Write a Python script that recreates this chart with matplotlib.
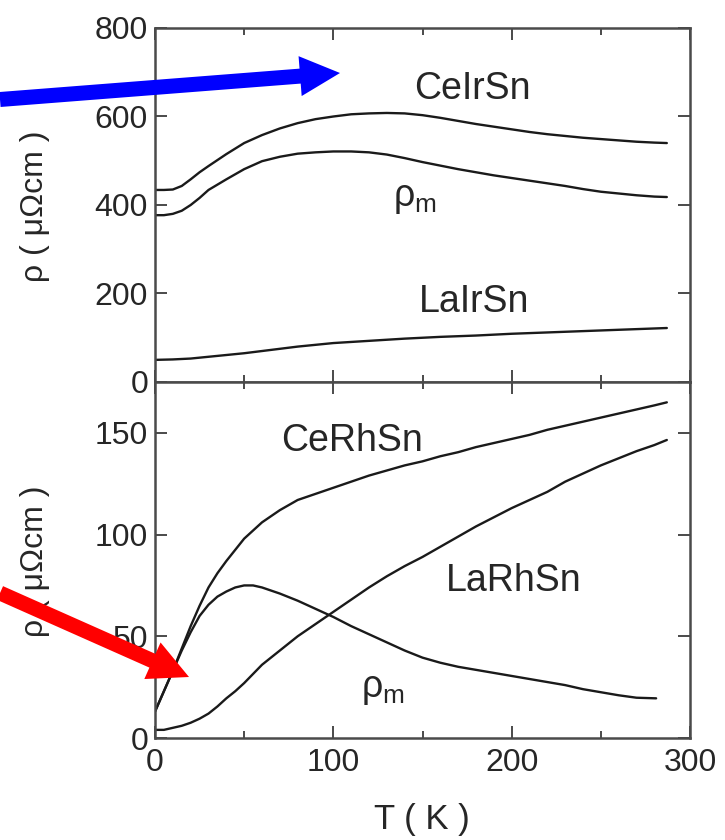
import matplotlib
matplotlib.use("Agg")
import matplotlib.pyplot as plt
from matplotlib.patches import FancyArrow
from matplotlib.transforms import IdentityTransform

plt.rcParams['font.family'] = ['Liberation Sans', 'DejaVu Sans']

# ---- upper panel: CeIrSn, its magnetic part, and LaIrSn (rho in micro-ohm cm) ----
t_ceirsn = [0, 5, 10, 15, 20, 25, 30, 40, 50, 60, 70, 80, 90, 100, 110, 120, 130,
            140, 150, 160, 170, 180, 190, 200, 210, 220, 230, 240, 250, 260, 270, 280, 287]
rho_ceirsn = [434, 434, 435, 443, 458, 474, 488, 515, 540, 558, 573, 585, 594, 600, 605,
              607, 608, 607, 603, 597, 590, 583, 577, 571, 565, 560, 556, 552, 549, 546,
              543, 541, 540]

t_rhom_ir = [0, 5, 10, 15, 20, 25, 30, 40, 50, 60, 70, 80, 90, 100, 110, 120, 130, 140,
             150, 160, 170, 180, 190, 200, 210, 220, 230, 240, 250, 260, 270, 280, 287]
rho_m_ir = [377, 377, 380, 387, 400, 416, 434, 458, 481, 499, 509, 516, 519, 521, 521,
            519, 514, 506, 497, 489, 481, 474, 467, 461, 455, 449, 443, 436, 430, 426,
            422, 419, 418]

t_lairsn = [0, 10, 20, 30, 40, 50, 60, 70, 80, 90, 100, 120, 140, 160, 180, 200, 220,
            240, 260, 287]
rho_lairsn = [50, 51, 53, 57, 61, 65, 70, 75, 80, 84, 88, 93, 98, 102, 105, 109, 112,
              115, 118, 122]

# ---- lower panel: CeRhSn, its magnetic part, and LaRhSn ----
t_cerhsn = [0, 3, 6, 10, 15, 20, 25, 30, 35, 40, 50, 60, 70, 80, 90, 100, 110, 120, 130,
            140, 150, 160, 170, 180, 190, 200, 210, 220, 230, 240, 250, 260, 270, 280, 287]
rho_cerhsn = [13, 19, 25, 33, 44, 55, 65, 74, 81, 87, 98, 106, 112, 117, 120, 123, 126,
              129, 131.5, 134, 136, 138.5, 140.5, 143, 145, 147, 149, 151.5, 153.5, 155.5,
              157.5, 159.5, 161.5, 163.5, 165]

t_rhom_rh = [0, 3, 6, 10, 15, 20, 25, 30, 35, 40, 45, 50, 55, 60, 70, 80, 90, 100, 110,
             120, 130, 140, 150, 160, 170, 180, 190, 200, 210, 220, 230, 240, 250, 260,
             270, 281]
rho_m_rh = [13, 19, 25, 33, 43, 52, 60, 65.5, 69.5, 72, 74, 75, 75, 74, 71, 67.5, 63.5,
            59.5, 55, 51, 47, 43, 39.5, 37, 35, 33.5, 32, 30.5, 29, 27.5, 26, 24, 22.5,
            21, 19.8, 19.5]

t_larhsn = [0, 5, 10, 15, 20, 25, 30, 35, 40, 45, 50, 60, 70, 80, 90, 100, 110, 120, 130,
            140, 150, 160, 170, 180, 190, 200, 210, 220, 230, 240, 250, 260, 270, 280, 287]
rho_larhsn = [4, 4, 5, 6, 7.5, 9.5, 12, 15.5, 19.5, 23, 27, 36, 43, 50, 56, 62, 68, 74,
              79.5, 84.5, 89, 94, 99, 104, 108.5, 113, 117, 121, 126, 130, 134, 137.5,
              141, 144, 146.5]

x_major = [0, 100, 200, 300]
x_minor = [50, 150, 250]
y_top_ticks = [0, 200, 400, 600, 800]
y_bot_ticks = [0, 50, 100, 150]

line_kw = dict(color='#1a1a1a', lw=1.7, solid_capstyle='round')
spine_color = '#4a4a4a'
text_color = '#262626'

fig = plt.figure(figsize=(7.25, 8.4), dpi=100)
ax_top = fig.add_axes([155 / 725, 1 - 382 / 840, 535 / 725, 354 / 840])
ax_bot = fig.add_axes([155 / 725, 1 - 738 / 840, 535 / 725, 356 / 840])

for ax in (ax_top, ax_bot):
    ax.set_xlim(0, 300)
    ax.set_xticks(x_major)
    ax.set_xticks(x_minor, minor=True)
    for s in ax.spines.values():
        s.set_color(spine_color)
        s.set_linewidth(1.8)
    ax.tick_params(which='both', direction='in', top=True, right=True,
                   color=spine_color, width=1.4, labelcolor=text_color,
                   labelsize=23)
    ax.tick_params(which='major', length=8.5)
    ax.tick_params(which='minor', length=5)
    ax.tick_params(axis='y', pad=5)

ax_top.plot(t_ceirsn, rho_ceirsn, **line_kw)
ax_top.plot(t_rhom_ir, rho_m_ir, **line_kw)
ax_top.plot(t_lairsn, rho_lairsn, **line_kw)
ax_top.set_ylim(0, 800)
ax_top.set_yticks(y_top_ticks)
ax_top.tick_params(axis='x', labelbottom=False)

ax_bot.plot(t_cerhsn, rho_cerhsn, **line_kw)
ax_bot.plot(t_rhom_rh, rho_m_rh, **line_kw)
ax_bot.plot(t_larhsn, rho_larhsn, **line_kw)
ax_bot.set_ylim(0, 175)
ax_bot.set_yticks(y_bot_ticks)
ax_bot.tick_params(axis='x', pad=7)

lab_kw = dict(fontsize=27, color=text_color, ha='center', va='center')
ax_top.text(178, 662, 'CeIrSn', **lab_kw)
ax_top.text(146, 416, r'$\mathregular{\rho_m}$', **lab_kw)
ax_top.text(179, 181, 'LaIrSn', **lab_kw)
ax_bot.text(110.5, 146, 'CeRhSn', **lab_kw)
ax_bot.text(201, 77, 'LaRhSn', **lab_kw)
ax_bot.text(128, 24, r'$\mathregular{\rho_m}$', **lab_kw)

ylab = 'ρ ( μΩcm )'
fig.text(35 / 725, 1 - 206 / 840, ylab, rotation=90, ha='center', va='center',
         fontsize=23, color=text_color)
fig.text(35 / 725, 1 - 561 / 840, ylab, rotation=90, ha='center', va='center',
         fontsize=23, color=text_color)
fig.text(422 / 725, 1 - 820 / 840, 'T ( K )', ha='center', va='center',
         fontsize=25, color=text_color)

# pointer arrows drawn in pixel units on top of everything
H = 840
arrow_kw = dict(width=15, head_width=40, head_length=40, length_includes_head=True,
                transform=IdentityTransform(), zorder=10, linewidth=0)
fig.add_artist(FancyArrow(0, H - 99.5, 340, -(73 - 99.5), color='#0000ff', **arrow_kw))
fig.add_artist(FancyArrow(0, H - 593, 189, -(677 - 593), color='#ff0000', **arrow_kw))

fig.savefig('out.png', dpi=100)
